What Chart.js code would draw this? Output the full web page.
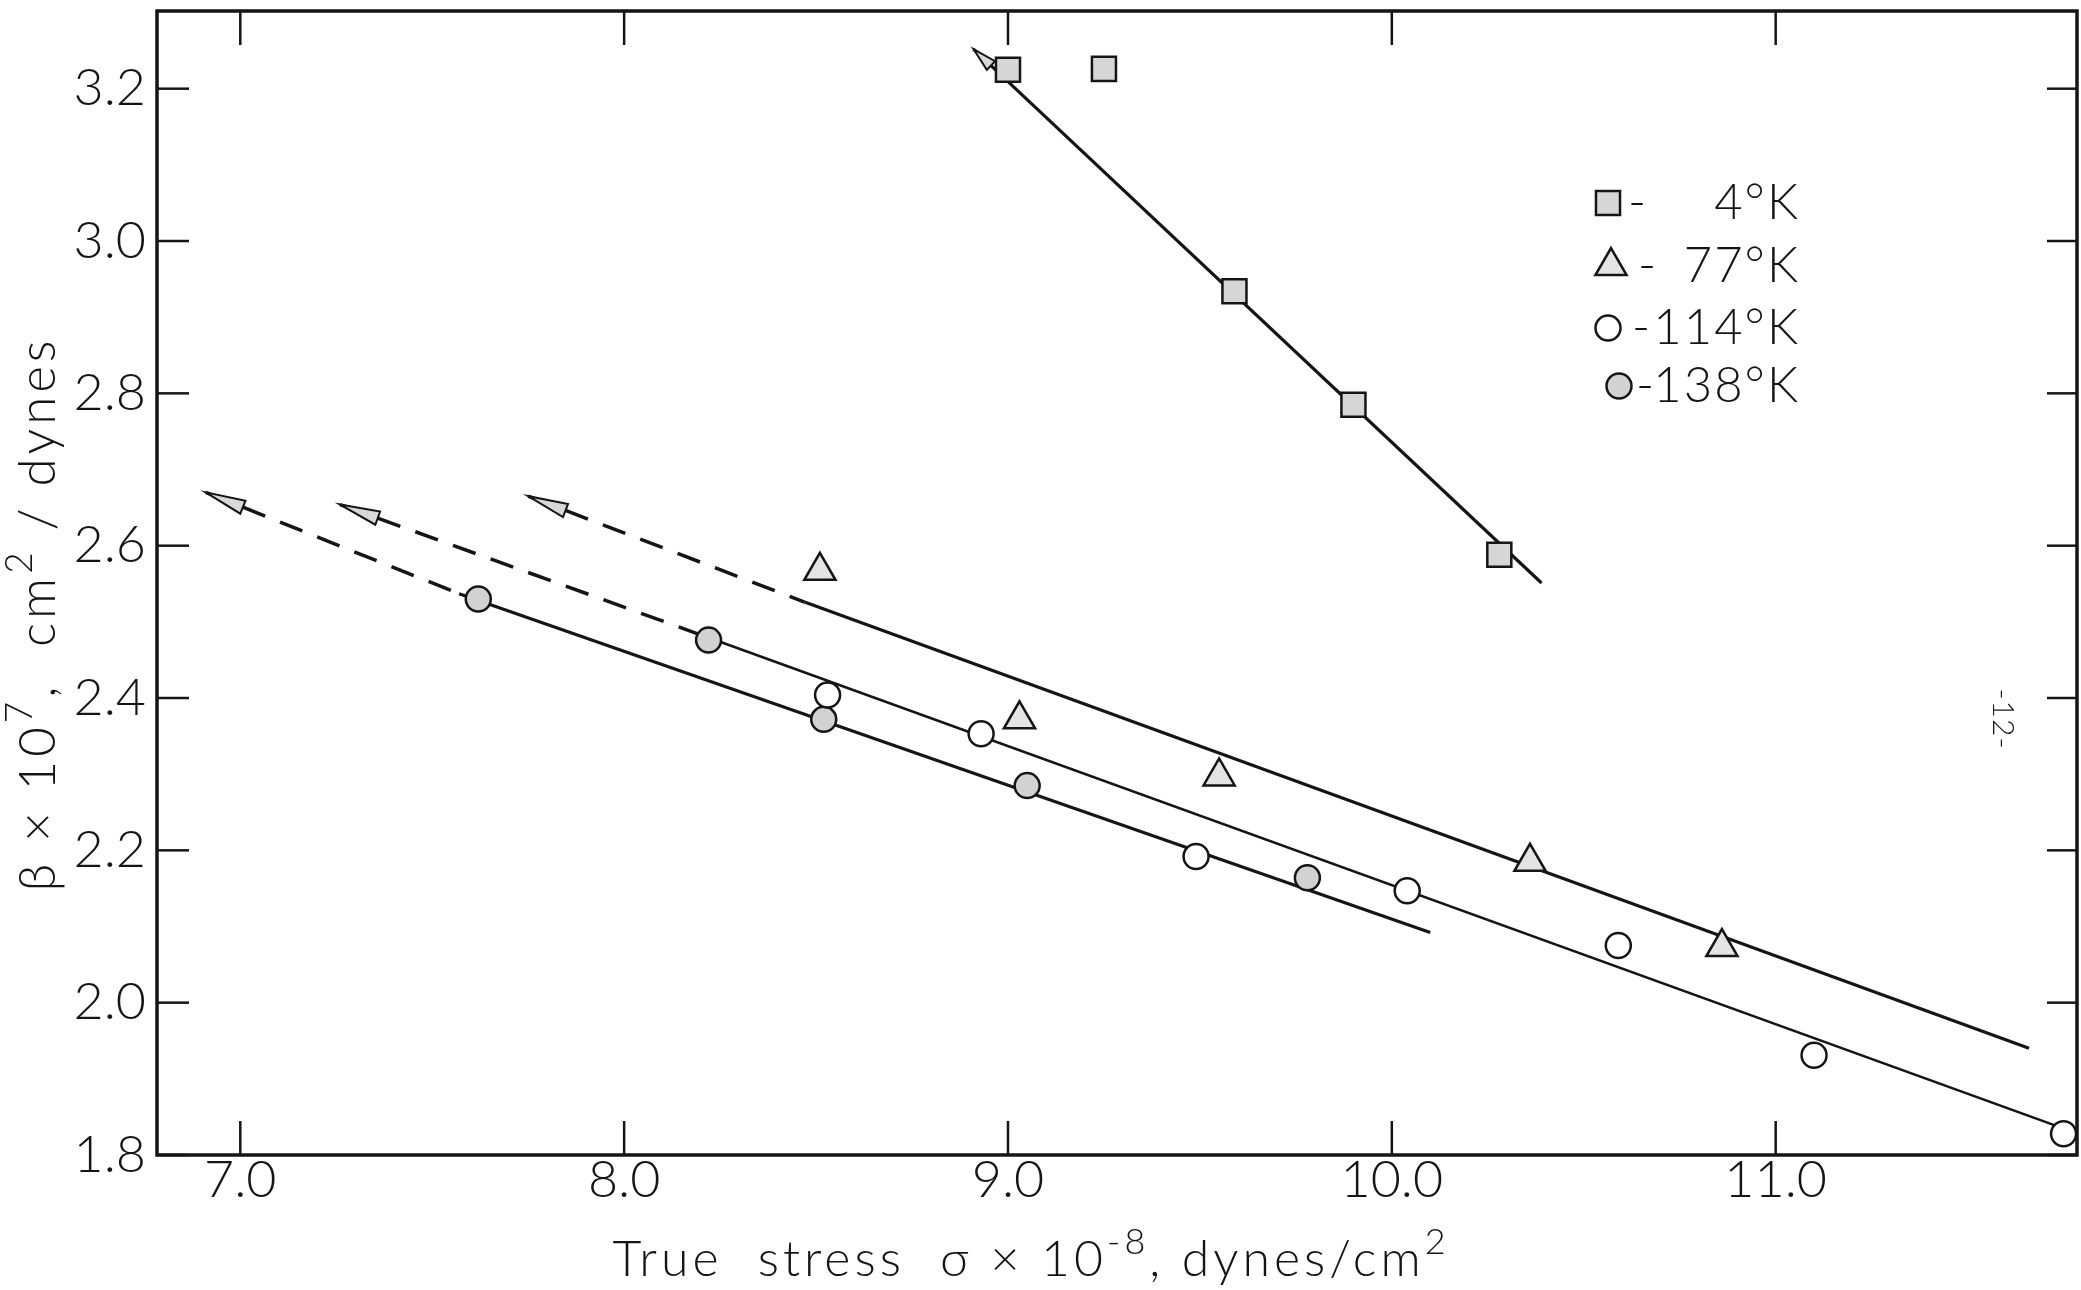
<!DOCTYPE html>
<html>
<head>
<meta charset="utf-8">
<script src="https://cdn.jsdelivr.net/npm/chart.js@4.4.1/dist/chart.umd.min.js"></script>
<style>
  body { margin: 0; background: #fff; }
  #wrap { width: 2081px; height: 1290px; }
</style>
</head>
<body>
<div id="wrap"><canvas id="beta-chart"></canvas></div>
<script>
// Axis ticks
const xTicks = [7.0, 8.0, 9.0, 10.0, 11.0];
const yTicks = [1.8, 2.0, 2.2, 2.4, 2.6, 2.8, 3.0, 3.2];

// Measured points per temperature
const x4K = [9.00, 9.25, 9.59, 9.90, 10.28];
const y4K = [3.225, 3.226, 2.934, 2.785, 2.588];
const x77K = [8.51, 9.03, 9.55, 10.36, 10.86];
const y77K = [2.567, 2.372, 2.297, 2.185, 2.073];
const x114K = [8.53, 8.93, 9.49, 10.04, 10.59, 11.10, 11.75];
const y114K = [2.404, 2.353, 2.192, 2.147, 2.075, 1.931, 1.828];
const x138K = [7.62, 8.22, 8.52, 9.05, 9.78];
const y138K = [2.530, 2.476, 2.372, 2.285, 2.164];

// Fitted lines (solid) and extrapolations (dashed, with arrow)
const fit4KX = [8.91, 10.39];   const fit4KY = [3.252, 2.551];
const fit77KX = [8.47, 11.66];  const fit77KY = [2.526, 1.940];
const fit114KX = [8.21, 11.76]; const fit114KY = [2.481, 1.833];
const fit138KX = [7.57, 10.10]; const fit138KY = [2.537, 2.092];
const ext77KX = [7.75, 8.47];   const ext77KY = [2.665, 2.526];
const ext114KX = [7.26, 8.21];  const ext114KY = [2.654, 2.481];
const ext138KX = [6.91, 7.57];  const ext138KY = [2.670, 2.537];

const legendLabels = ['4°K', '77°K', '114°K', '138°K'];

const FONT = 'Lato, "Open Sans", "DejaVu Sans", sans-serif';
const INK = '#151515';

const pts = (xs, ys) => xs.map((x, i) => ({ x: x, y: ys[i] }));

function markers(label, xs, ys, style, radius, fill) {
  return {
    type: 'scatter',
    label: label,
    data: pts(xs, ys),
    pointStyle: style,
    pointRadius: radius,
    pointHoverRadius: radius,
    backgroundColor: fill,
    borderColor: INK,
    borderWidth: 2.5,
    order: 0
  };
}

function fitLine(xs, ys, width, dash) {
  return {
    type: 'line',
    data: pts(xs, ys),
    showLine: true,
    pointRadius: 0,
    borderColor: INK,
    borderWidth: width,
    borderDash: dash || [],
    fill: false,
    order: 1
  };
}

function segment(ctx, x1, y1, x2, y2) {
  ctx.beginPath();
  ctx.moveTo(x1, y1);
  ctx.lineTo(x2, y2);
  ctx.stroke();
}

// text with raised parts, centred on x, sitting on baseline y
function richText(ctx, parts, x, y, size) {
  const big = '300 ' + size + 'px ' + FONT;
  const small = '300 ' + Math.round(size * 0.72) + 'px ' + FONT;
  let total = 0;
  parts.forEach(([t, sup]) => { ctx.font = sup ? small : big; total += ctx.measureText(t).width; });
  let cx = x - total / 2;
  ctx.textAlign = 'left';
  ctx.textBaseline = 'alphabetic';
  parts.forEach(([t, sup]) => {
    ctx.font = sup ? small : big;
    ctx.fillText(t, cx, sup ? y - size * 0.45 : y);
    cx += ctx.measureText(t).width;
  });
}

// Frame, inward ticks, arrowheads, legend and axis titles
const paperPlugin = {
  id: 'paperPlugin',
  afterDatasetsDraw(chart) {
    const { ctx, chartArea: a, scales } = chart;
    const sx = scales.x, sy = scales.y;
    ctx.save();
    ctx.strokeStyle = INK;
    ctx.fillStyle = INK;
    ctx.lineCap = 'butt';

    ctx.lineWidth = 2.5;
    xTicks.forEach(v => {
      const px = sx.getPixelForValue(v);
      segment(ctx, px, a.bottom, px, a.bottom - 34);
      segment(ctx, px, a.top, px, a.top + 34);
    });
    yTicks.forEach(v => {
      const py = sy.getPixelForValue(v);
      segment(ctx, a.left, py, a.left + 32, py);
      segment(ctx, a.right, py, a.right - 30, py);
    });

    ctx.lineWidth = 3.5;
    ctx.strokeRect(a.left, a.top, a.right - a.left, a.bottom - a.top);

    // arrowheads at the far end of the extrapolations
    const arrows = [
      [ext77KX, ext77KY, 40, 7],
      [ext114KX, ext114KY, 40, 7],
      [ext138KX, ext138KY, 40, 7],
      [fit4KX, fit4KY, 24, 6]
    ];
    ctx.lineWidth = 2;
    arrows.forEach(([xs, ys, len, half]) => {
      const x0 = sx.getPixelForValue(xs[0]), y0 = sy.getPixelForValue(ys[0]);
      const x1 = sx.getPixelForValue(xs[1]), y1 = sy.getPixelForValue(ys[1]);
      const d = Math.hypot(x1 - x0, y1 - y0);
      const ux = (x1 - x0) / d, uy = (y1 - y0) / d;
      const bx = x0 + ux * len, by = y0 + uy * len;
      ctx.beginPath();
      ctx.moveTo(x0, y0);
      ctx.lineTo(bx - uy * half, by + ux * half);
      ctx.lineTo(bx + uy * half, by - ux * half);
      ctx.closePath();
      ctx.fillStyle = '#d8d8d8';
      ctx.fill();
      ctx.stroke();
    });

    // legend
    const rowsY = [203, 266, 328, 386];
    const markX = [1608, 1611, 1608, 1619];
    const dashX = [1638, 1648, 1642, 1646];
    ctx.font = '300 49px ' + FONT;
    ctx.textBaseline = 'middle';
    ctx.letterSpacing = '2px';
    legendLabels.forEach((lab, i) => {
      const ds = chart.data.datasets[i];
      ctx.fillStyle = ds.backgroundColor;
      ctx.strokeStyle = INK;
      ctx.lineWidth = ds.borderWidth;
      Chart.helpers.drawPoint(ctx, {
        pointStyle: ds.pointStyle,
        radius: ds.pointRadius,
        borderWidth: ds.borderWidth,
        rotation: 0
      }, markX[i], rowsY[i]);
      ctx.fillStyle = INK;
      ctx.textAlign = 'center';
      ctx.fillText('-', dashX[i], rowsY[i]);
      ctx.textAlign = 'right';
      ctx.fillText(lab, 1800, rowsY[i]);
    });

    // axis titles
    ctx.fillStyle = INK;
    ctx.letterSpacing = '4px';
    richText(ctx, [['True  stress  σ × 10', false], ['-8', true], [', dynes/cm', false], ['2', true]], 1031, 1276, 50);

    ctx.save();
    ctx.translate(55, 614);
    ctx.rotate(-Math.PI / 2);
    richText(ctx, [['β × 10', false], ['7', true], [',  cm', false], ['2', true], [' / dynes', false]], 0, 0, 51);
    ctx.restore();

    // page number
    ctx.letterSpacing = '1px';
    ctx.font = '300 30px ' + FONT;
    ctx.textAlign = 'center';
    ctx.textBaseline = 'middle';
    ctx.save();
    ctx.translate(2003, 719);
    ctx.rotate(Math.PI / 2);
    ctx.fillText('-12-', 0, 0);
    ctx.restore();

    ctx.restore();
  }
};

new Chart(document.getElementById('beta-chart'), {
  type: 'scatter',
  data: {
    datasets: [
      markers('4°K', x4K, y4K, 'rect', 17, '#d6d6d6'),
      markers('77°K', x77K, y77K, 'triangle', 18, '#e4e4e4'),
      markers('114°K', x114K, y114K, 'circle', 12.5, '#ffffff'),
      markers('138°K', x138K, y138K, 'circle', 12.5, '#d2d2d2'),
      fitLine(fit4KX, fit4KY, 3.2),
      fitLine(fit77KX, fit77KY, 3.2),
      fitLine(fit114KX, fit114KY, 2.6),
      fitLine(fit138KX, fit138KY, 3.2),
      fitLine(ext77KX, ext77KY, 3.5, [24, 16]),
      fitLine(ext114KX, ext114KY, 3.5, [24, 16]),
      fitLine(ext138KX, ext138KY, 3.5, [24, 16])
    ]
  },
  options: {
    responsive: true,
    maintainAspectRatio: false,
    devicePixelRatio: 1,
    animation: false,
    layout: { autoPadding: false, padding: { top: 11, right: 4, left: 0, bottom: 0 } },
    plugins: {
      legend: { display: false },
      tooltip: { enabled: false }
    },
    scales: {
      x: {
        type: 'linear',
        min: 6.783,
        max: 11.785,
        grid: { display: false, drawTicks: false },
        border: { display: false },
        afterBuildTicks: (scale) => { scale.ticks = xTicks.map(v => ({ value: v })); },
        afterFit: (scale) => {
          scale.height = 135;
          scale.paddingLeft = 0;
          scale.paddingRight = 0;
        },
        ticks: {
          padding: -6,
          color: INK,
          font: { family: FONT, size: 52, weight: 300 },
          callback: (v) => v.toFixed(1)
        }
      },
      y: {
        type: 'linear',
        min: 1.8,
        max: 3.302,
        grid: { display: false, drawTicks: false },
        border: { display: false },
        afterBuildTicks: (scale) => { scale.ticks = yTicks.map(v => ({ value: v })); },
        afterFit: (scale) => {
          scale.width = 157;
          scale.paddingTop = 0;
          scale.paddingBottom = 0;
        },
        ticks: {
          padding: 11,
          color: INK,
          font: { family: FONT, size: 52, weight: 300 },
          callback: (v) => v.toFixed(1)
        }
      }
    }
  },
  plugins: [paperPlugin]
});
</script>
</body>
</html>
